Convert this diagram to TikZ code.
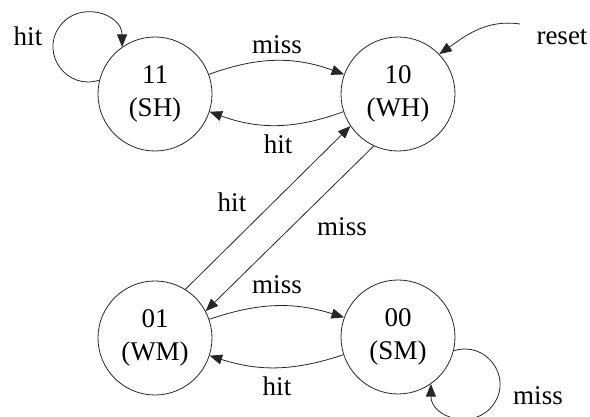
\documentclass[tikz,border=0pt]{standalone}
\usepackage{fontspec}
\setmainfont{Liberation Serif}
\usetikzlibrary{arrows.meta}
\begin{document}
\begin{tikzpicture}[x=1pt,y=1pt,
  state/.style={circle, draw=black!85, line width=0.8pt, minimum size=114pt,
    inner sep=0pt, align=center, font=\fontsize{27}{33}\selectfont},
  lbl/.style={inner sep=0pt, font=\fontsize{27}{33}\selectfont},
  trans/.style={draw=black!85, line width=0.8pt,
    -{Triangle[length=12.5pt,width=10pt]}}]
\useasboundingbox (0,0) rectangle (590,417);

% states of the 2-bit predictor
\node[state] (s11) at (155,323) {11\\(SH)};
\node[state] (s10) at (398,323) {10\\(WH)};
\node[state] (s01) at (155,79)  {01\\(WM)};
\node[state] (s00) at (398,80)  {00\\(SM)};

% transitions between states
\draw[trans] (s11.20)  to[bend left=20] (s10.160);
\draw[trans] (s10.198) to[bend left=20] (s11.342);
\draw[trans] (s01.58)  -- (s10.214);
\draw[trans] (s10.245) -- (s01.28);
\draw[trans] (s01.19)  to[bend left=18] (s00.160);
\draw[trans] (s00.198) to[bend left=18] (s01.342);

% self loops, each built from two arc-like pieces
\coordinate (lp11) at (59.3,390.1);
\coordinate (lp00) at (493.7,12.9);
\draw[trans] (s11.166) .. controls +(-31.9,-10.6) and +(-19.3,-27.5) .. (lp11)
                       .. controls +(19.3,27.5) and +(0,33.6) .. (s11.125);
\draw[trans] (s00.346) .. controls +(31.9,10.6) and +(19.3,27.5) .. (lp00)
                       .. controls +(-19.3,-27.5) and +(0,-33.6) .. (s00.305);

% reset entry
\coordinate (rst) at (520,393);
\draw[trans] (rst) to[out=172,in=35] (s10.44);

% labels
\node[lbl] (l1) at (28,381)  {hit};
\node[lbl] (l2) at (277,372.5) {miss};
\node[lbl] (l3) at (278,273) {hit};
\node[lbl] (l4) at (562,380) {reset};
\node[lbl] (l5) at (232,215) {hit};
\node[lbl] (l6) at (342,190) {miss};
\node[lbl] (l7) at (277,132) {miss};
\node[lbl] (l8) at (277,31)  {hit};
\node[lbl] (l9) at (538,21)  {miss};
\end{tikzpicture}
\end{document}
